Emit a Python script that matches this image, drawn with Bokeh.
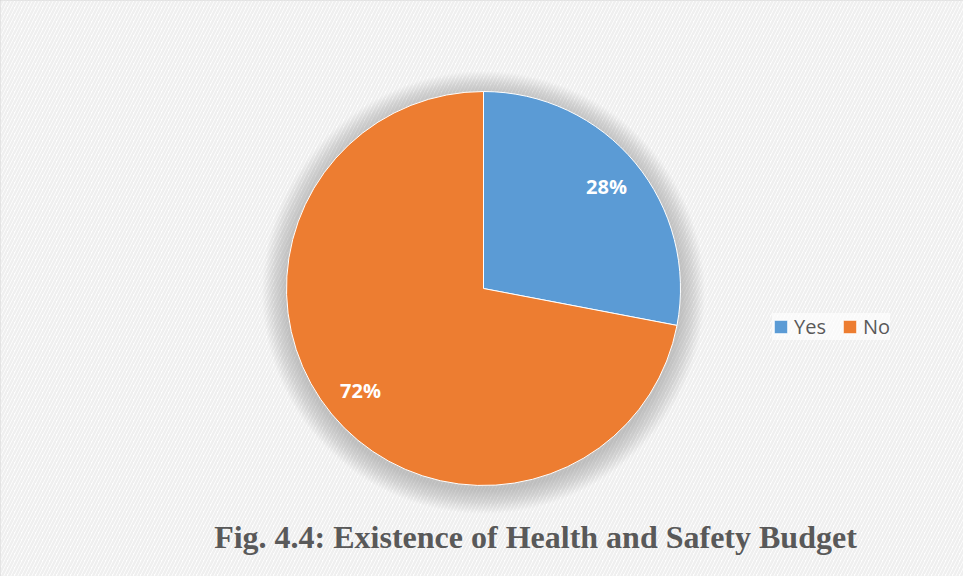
import math
from bokeh.plotting import figure
from bokeh.models import Range1d, ColumnDataSource, Legend, LegendItem
from bokeh.core.properties import value
from bokeh.embed import file_html
from bokeh.resources import INLINE

categories = ["Yes", "No"]
shares = [28, 72]
labels = ["28%", "72%"]
colors = ["#5B9BD5", "#ED7D31"]
title_text = "Fig. 4.4: Existence of Health and Safety Budget"

W, H = 963, 576
cx, cy, R = 483, 288, 197

p = figure(width=W, height=H, output_backend="svg", toolbar_location=None,
           x_range=Range1d(0, W), y_range=Range1d(0, H), min_border=0,
           background_fill_color="#ffffff", border_fill_color="#ffffff")
p.axis.visible = False
p.grid.visible = False
p.outline_line_color = "#d9d9d9"
p.outline_line_width = 3

# hatched background
p.quad(left=[0], right=[W], bottom=[0], top=[H], fill_color="#ffffff", line_color=None,
       hatch_pattern="right_diagonal_line", hatch_color="#efefef", hatch_scale=7, hatch_weight=2.5)

# soft shadow around pie
for k in range(20, 0, -1):
    p.circle(x=[cx], y=[cy - 4], radius=R + k * 1.2, fill_color="#808080",
             fill_alpha=0.025, line_color=None)

# wedges
total = sum(shares)
starts, ends, mids = [], [], []
a = math.pi / 2
for s in shares:
    sweep = s / total * 2 * math.pi
    starts.append(a)
    ends.append(a - sweep)
    mids.append(a - sweep / 2)
    a -= sweep
src = ColumnDataSource(dict(cat=categories, start=starts, end=ends, color=colors,
                            lx=[cx + 0.81 * R * math.cos(m) for m in mids],
                            ly=[cy + 0.81 * R * math.sin(m) for m in mids],
                            lab=labels))
r = p.wedge(x=cx, y=cy, radius=R, start_angle="start", end_angle="end", direction="clock",
            fill_color="color", line_color="#ffffff", line_width=1, source=src)

p.text(x="lx", y="ly", text="lab", source=src, text_color="#ffffff",
       text_font=value("Open Sans"), text_font_style="bold", text_font_size="20px",
       text_align="center", text_baseline="middle")

# legend
items = [LegendItem(label=c, renderers=[r], index=i) for i, c in enumerate(categories)]
leg = Legend(items=items, orientation="horizontal", location=(772, 236),
             label_text_font="Open Sans", label_text_font_size="20px", label_text_color="#595959",
             glyph_width=17, glyph_height=17, spacing=15, label_standoff=5,
             label_height=24,
             background_fill_color="#ffffff", background_fill_alpha=0.6,
             border_line_color=None, padding=4, margin=0)
p.add_layout(leg, "center")

# title
p.text(x=[535], y=[40], text=[title_text], text_color="#595959",
       text_font=value("Liberation Serif"), text_font_style="bold", text_font_size="32px",
       text_align="center", text_baseline="middle")

open("out.html", "w").write(file_html(p, INLINE))
